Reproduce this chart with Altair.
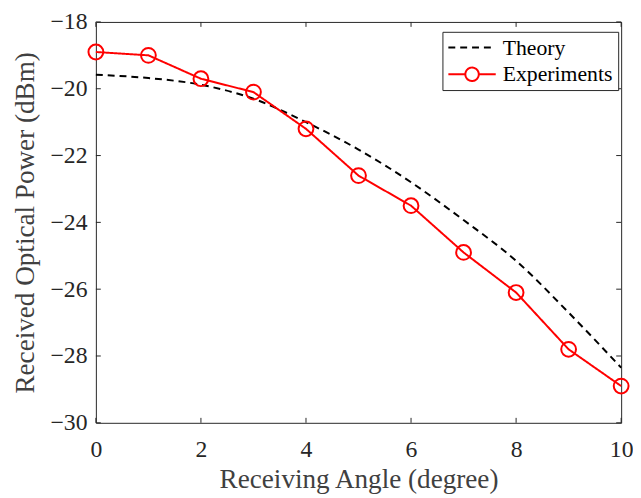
import altair as alt
import pandas as pd

angle = [0, 1, 2, 3, 4, 5, 6, 7, 8, 9, 10]
theory = [-19.58, -19.68, -19.88, -20.30, -21.00, -21.82, -22.80, -23.93, -25.15, -26.70, -28.35]
experiments = [-18.9, -19.0, -19.7, -20.1, -21.2, -22.6, -23.5, -24.9, -26.1, -27.8, -28.9]
series_names = ["Theory", "Experiments"]
series_colors = ["#000000", "#FF0000"]
x_ticks = [0, 2, 4, 6, 8, 10]
y_ticks = [-30, -28, -26, -24, -22, -20, -18]

df = pd.DataFrame({
    "angle": angle + angle,
    "power": theory + experiments,
    "series": [series_names[0]] * len(angle) + [series_names[1]] * len(angle),
})
xt = pd.DataFrame({"angle": x_ticks})
yt = pd.DataFrame({"power": y_ticks})

W, H, TL = 532, 406, 5
FONT = "Liberation Serif"
AXC = "#262626"
xs = alt.Scale(domain=[0, 10], nice=False, zero=False)
ys = alt.Scale(domain=[-30, -18], nice=False, zero=False)

theory_sym = "M-2.4,0H2.4"
exp_sym = "M-2.4,0H-0.68M0.68,0H2.4M0.68,0A0.68,0.68,0,1,1,-0.68,0A0.68,0.68,0,1,1,0.68,0"

color = alt.Color("series:N", scale=alt.Scale(domain=series_names, range=series_colors), title=None)
dash = alt.StrokeDash("series:N", scale=alt.Scale(domain=series_names, range=[[7, 5], [1, 0]]), title=None)
shape = alt.Shape("series:N", scale=alt.Scale(domain=series_names, range=[theory_sym, exp_sym]), title=None)

x_axis = alt.Axis(
    orient="bottom", values=x_ticks, ticks=False, labelPadding=15, labelFlush=False,
    title="Receiving Angle (degree)", titleY=66, titleBaseline="alphabetic")
y_axis = alt.Axis(
    orient="left", values=y_ticks, ticks=False, labelPadding=9, format="d",
    title="Received Optical Power (dBm)", titleX=-71, titleBaseline="middle")
X = alt.X("angle:Q", scale=xs, axis=x_axis)
Y = alt.Y("power:Q", scale=ys, axis=y_axis)

base = alt.Chart(df)

theory_line = base.transform_filter(alt.datum.series == series_names[0]).mark_line(
    strokeWidth=2, interpolate="monotone").encode(x=X, y=Y, color=color, strokeDash=dash)

exp_line = base.transform_filter(alt.datum.series == series_names[1]).mark_line(
    strokeWidth=2).encode(x=X, y=Y, color=color, strokeDash=dash)

exp_points = base.transform_filter(alt.datum.series == series_names[1]).mark_point(
    shape="circle", filled=False, size=225, strokeWidth=2, opacity=1).encode(
    x=X, y=Y, color=color)

legend_layer = base.transform_filter("datum.angle < 0").mark_point(
    filled=False, strokeWidth=2, opacity=1).encode(x=X, y=Y, color=color, shape=shape)

tick_style = dict(color=AXC, strokeWidth=1)
ticks_bottom = alt.Chart(xt).mark_rule(**tick_style).encode(x=X, y=alt.value(H), y2=alt.value(H - TL))
ticks_top = alt.Chart(xt).mark_rule(**tick_style).encode(x=X, y=alt.value(0), y2=alt.value(TL))
ticks_left = alt.Chart(yt).mark_rule(**tick_style).encode(y=Y, x=alt.value(0), x2=alt.value(TL))
ticks_right = alt.Chart(yt).mark_rule(**tick_style).encode(y=Y, x=alt.value(W), x2=alt.value(W - TL))

chart = alt.layer(
    theory_line, exp_line, exp_points, legend_layer,
    ticks_bottom, ticks_top, ticks_left, ticks_right,
).properties(
    width=W, height=H,
    padding={"left": 89, "top": 11, "right": 12, "bottom": 70},
    autosize=alt.AutoSizeParams(type="none"),
).configure_axis(
    domain=False, grid=False,
    labelFont=FONT, labelFontSize=24, labelColor=AXC,
    titleFont=FONT, titleFontSize=27.5, titleColor="#404040", titleFontWeight="normal",
).configure_view(
    stroke=AXC, strokeWidth=1,
).configure_legend(
    orient="none", legendX=351, legendY=10, padding=5,
    strokeColor=AXC, fillColor="white",
    labelFont=FONT, labelFontSize=22, labelColor="#000000",
    symbolSize=400, symbolStrokeWidth=2, symbolOffset=14, labelOffset=20, rowPadding=5,
)

chart.save("out.html", embed_options={"renderer": "svg", "actions": False})
